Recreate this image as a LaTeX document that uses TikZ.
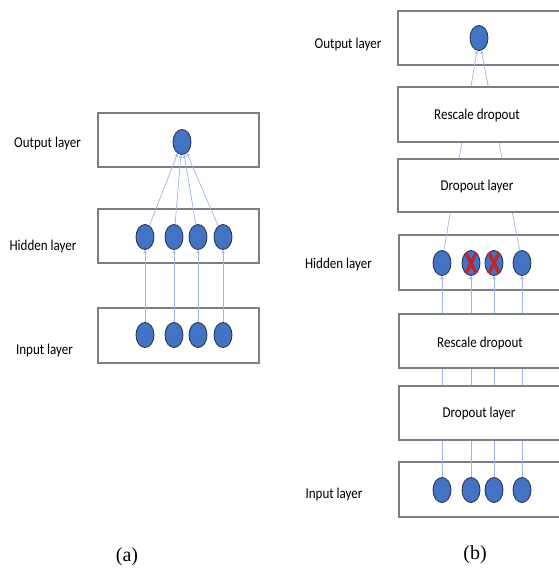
\documentclass[tikz,border=0pt]{standalone}
\usepackage{fontspec}
\setmainfont{Carlito}[FakeStretch=0.87]
\newfontfamily\capfont{Liberation Serif}
\usetikzlibrary{shapes.geometric,arrows.meta}

\definecolor{boxgray}{HTML}{7F7F7F}
\definecolor{nblue}{HTML}{4472C4}
\definecolor{nedge}{HTML}{2B3A55}
\definecolor{linkblue}{HTML}{9DB6E3}
\definecolor{dropred}{HTML}{C0272D}

\tikzset{
  layerbox/.style={draw=boxgray, line width=1.3pt, fill=white, inner sep=0pt, minimum width=#1},
  layerbox/.default=161pt,
  neuron/.style={ellipse, minimum width=18pt, minimum height=25pt, inner sep=0pt,
                 fill=nblue, draw=nedge, line width=0.9pt},
  link/.style={draw=linkblue, line width=0.7pt, -{Stealth[length=3.5pt,width=3.5pt]}},
  lbl/.style={font=\fontsize{15}{17}\selectfont, inner sep=0pt},
  subcaption/.style={font=\capfont\fontsize{20}{22}\selectfont, inner sep=0pt},
  xmark/.style={draw=dropred, line width=3.4pt},
}

\begin{document}
\begin{tikzpicture}[x=1pt, y=-1pt]
\useasboundingbox (0,0) rectangle (559,568);
\clip (0,0) rectangle (559,568);

% ---------------- (a) standard network ----------------
\node[layerbox, minimum height=54pt] (oa) at (178.5,140) {};
\node[layerbox, minimum height=54pt] (ha) at (178.5,236) {};
\node[layerbox, minimum height=55pt] (ia) at (178.5,335.5) {};

\node[lbl] (loa) at (47.5,143) {Output layer};
\node[lbl] (lha) at (43,246) {Hidden layer};
\node[lbl] (lia) at (44.5,350) {Input layer};

\node[neuron] (ao) at (182,142) {};
\foreach \i/\x in {1/145,2/174,3/198,4/223} {
  \node[neuron] (ah\i) at (\x,237) {};
  \node[neuron] (ai\i) at (\x,335) {};
}
\foreach \i in {1,...,4} {
  \draw[link] (ai\i) -- (ah\i);
  \draw[link] (ah\i) -- (ao);
}

\node[subcaption] (capa) at (127,557) {(a)};

% ---------------- (b) network with dropout ----------------
\node[layerbox=167pt, minimum height=54pt] (ob) at (481.5,38) {};
\node[layerbox=167pt, minimum height=55pt] (hb) at (482.5,262.5) {};
\node[layerbox=167pt, minimum height=55pt] (ib) at (482.5,489.5) {};

\node[lbl] (lob) at (348,44) {Output layer};
\node[lbl] (lhb) at (338.5,264) {Hidden layer};
\node[lbl] (lib) at (334,494) {Input layer};

\node[neuron] (bo) at (479,38) {};
\foreach \i/\x in {1/442,2/471,3/494,4/522} {
  \node[neuron] (bh\i) at (\x,263) {};
  \node[neuron] (bi\i) at (\x,490) {};
}
\foreach \i in {1,...,4} {
  \draw[link] (bi\i) -- (bh\i);
}
\draw[link] (bh1) -- (bo);
\draw[link] (bh4) -- (bo);

% dropout stages sit over the links
\node[layerbox=167pt, minimum height=55pt] (rb1) at (481.5,114.5) {};
\node[layerbox=167pt, minimum height=53pt] (db1) at (481.5,185.5) {};
\node[layerbox=167pt, minimum height=54pt] (rb2) at (482.5,341) {};
\node[layerbox=167pt, minimum height=54pt] (db2) at (482.5,413) {};

\node[lbl] (trb1) at (477,115) {Rescale dropout};
\node[lbl] (tdb1) at (477,186) {Dropout layer};
\node[lbl] (trb2) at (480,343) {Rescale dropout};
\node[lbl] (tdb2) at (479,413) {Dropout layer};

% dropped hidden units
\foreach \n in {bh2,bh3} {
  \draw[xmark] ([xshift=-5pt,yshift=10pt]\n.center) -- ([xshift=5pt,yshift=-10pt]\n.center);
  \draw[xmark] ([xshift=5pt,yshift=10pt]\n.center) -- ([xshift=-5pt,yshift=-10pt]\n.center);
}

\node[subcaption] (capb) at (475,555) {(b)};
\end{tikzpicture}
\end{document}
